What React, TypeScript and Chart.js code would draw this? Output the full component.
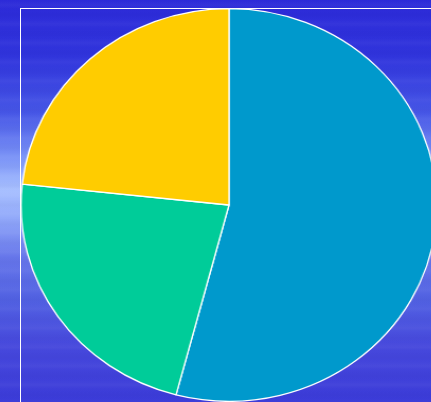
import React, { useEffect, useRef } from "react";
import { Chart, registerables } from "chart.js";

Chart.register(...registerables);

const categories = ["A", "B", "C"];
const values = [54.1, 22.6, 23.3];
const colors = ["#0099CC", "#00CC99", "#FFCC00"];

export default function App() {
  const ref = useRef<HTMLCanvasElement | null>(null);

  useEffect(() => {
    if (!ref.current) return;
    const chart = new Chart(ref.current, {
      type: "pie",
      data: {
        labels: categories,
        datasets: [
          {
            data: values,
            backgroundColor: colors,
            borderColor: "#ffffff",
            borderWidth: 1.3,
          },
        ],
      },
      options: {
        responsive: false,
        animation: false,
        rotation: 0,
        layout: { padding: 0 },
        plugins: {
          legend: { display: false },
          tooltip: { enabled: false },
        },
      },
    });
    return () => chart.destroy();
  }, []);

  return (
    <div
      style={{
        position: "fixed",
        left: 0,
        top: 0,
        width: 431,
        height: 402,
        overflow: "hidden",
        background:
          "linear-gradient(180deg, #2c2ad8 0%, #3034dc 14%, #4656e6 28%, #7f98f8 40%, #a8c0ff 47%, #93aafa 54%, #6676ea 64%, #5262e2 74%, #4648dc 86%, #3b3bd8 100%)",
      }}
    >
      <div
        style={{
          position: "absolute",
          left: 0,
          top: 0,
          width: 431,
          height: 402,
          background:
            "repeating-linear-gradient(180deg, rgba(255,255,255,0) 0px, rgba(255,255,255,0.035) 5px, rgba(255,255,255,0) 9px, rgba(0,0,80,0.025) 15px, rgba(255,255,255,0) 19px)",
        }}
      />
      <div
        style={{
          position: "absolute",
          left: 20,
          top: 8,
          width: 500,
          height: 500,
          border: "1px solid #ffffff",
          boxSizing: "border-box",
        }}
      />
      <div
        style={{
          position: "absolute",
          left: 32,
          top: 8,
          width: 394,
          height: 394,
          transform: "scaleX(1.059)",
          transformOrigin: "197px 197px",
        }}
      >
        <canvas ref={ref} width={394} height={394} />
      </div>
    </div>
  );
}
